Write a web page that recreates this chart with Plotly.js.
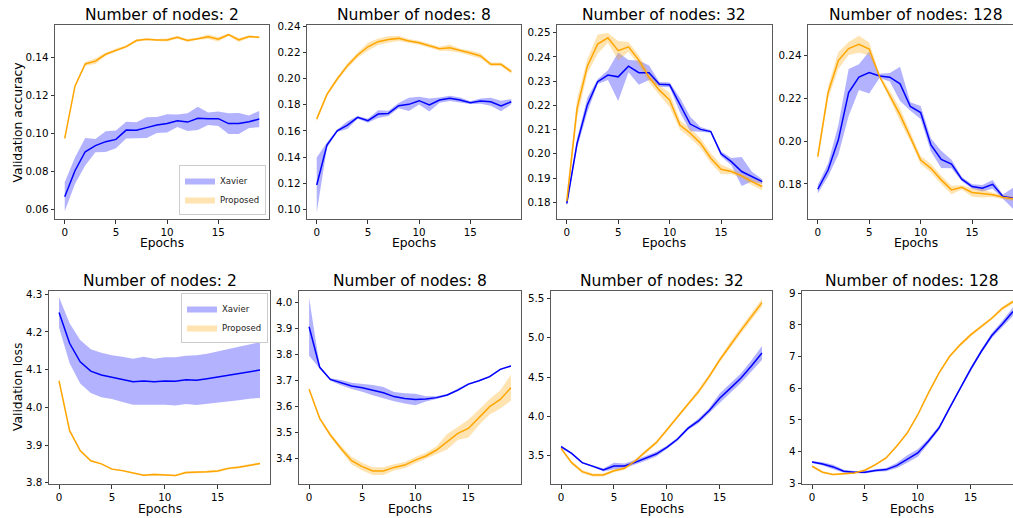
<!DOCTYPE html>
<html>
<head>
<meta charset="utf-8">
<script src="https://cdn.plot.ly/plotly-3.0.1.min.js"></script>
<style>
  html, body { margin: 0; padding: 0; overflow: hidden; background: #fff; }
  #chart { width: 1030px; height: 518px; }
</style>
</head>
<body>
<div id="chart"></div>
<script>
// ---------------- data ----------------
const epochs = [0,1,2,3,4,5,6,7,8,9,10,11,12,13,14,15,16,17,18,19];
const nodeCounts = [2, 8, 32, 128];
const seriesNames = ["Xavier", "Proposed"];

// validation accuracy
const acc2_xavier_mean = [0.0668,0.0805,0.0905,0.0937,0.0958,0.0970,0.1019,0.1018,0.1032,0.1046,0.1054,0.1068,0.1061,0.1081,0.1079,0.1079,0.1053,0.1054,0.1063,0.1077];
const acc2_xavier_std  = [0.0076,0.0070,0.0072,0.0035,0.0055,0.0047,0.0044,0.0042,0.0055,0.0042,0.0048,0.0033,0.0047,0.0061,0.0033,0.0038,0.0055,0.0055,0.0033,0.0043];
const acc2_proposed_mean = [0.0975,0.1250,0.1367,0.1382,0.1418,0.1440,0.1458,0.1490,0.1497,0.1493,0.1493,0.1507,0.1490,0.1500,0.1510,0.1497,0.1521,0.1493,0.1511,0.1507];
const acc2_proposed_std  = [0.0005,0.0005,0.0010,0.0015,0.0008,0.0008,0.0007,0.0007,0.0005,0.0005,0.0008,0.0008,0.0008,0.0006,0.0012,0.0012,0.0006,0.0010,0.0006,0.0005];

const acc8_xavier_mean = [0.1188,0.1493,0.1602,0.1645,0.1704,0.1678,0.1729,0.1734,0.1793,0.1803,0.1831,0.1798,0.1836,0.1849,0.1836,0.1816,0.1828,0.1823,0.1790,0.1823];
const acc8_xavier_std  = [0.0210,0.0020,0.0010,0.0030,0.0010,0.0015,0.0030,0.0020,0.0020,0.0050,0.0030,0.0050,0.0020,0.0020,0.0020,0.0010,0.0020,0.0030,0.0040,0.0020];
const acc8_proposed_mean = [0.1691,0.1879,0.1996,0.2098,0.2179,0.2242,0.2281,0.2298,0.2306,0.2286,0.2273,0.2250,0.2227,0.2235,0.2212,0.2194,0.2172,0.2108,0.2108,0.2052];
const acc8_proposed_std  = [0.0020,0.0015,0.0015,0.0020,0.0020,0.0030,0.0025,0.0025,0.0020,0.0015,0.0015,0.0015,0.0015,0.0025,0.0015,0.0020,0.0020,0.0015,0.0015,0.0015];

const acc32_xavier_mean = [0.1795,0.2043,0.2202,0.2298,0.2325,0.2318,0.2362,0.2335,0.2335,0.2287,0.2285,0.2202,0.2123,0.2101,0.2092,0.2000,0.1968,0.1927,0.1906,0.1885];
const acc32_xavier_std  = [0.0010,0.0020,0.0030,0.0010,0.0020,0.0100,0.0025,0.0050,0.0030,0.0010,0.0010,0.0030,0.0030,0.0010,0.0005,0.0010,0.0015,0.0060,0.0020,0.0010];
const acc32_proposed_mean = [0.1805,0.2188,0.2362,0.2453,0.2479,0.2426,0.2442,0.2387,0.2316,0.2263,0.2222,0.2119,0.2085,0.2044,0.1982,0.1936,0.1927,0.1909,0.1885,0.1865];
const acc32_proposed_std  = [0.0020,0.0040,0.0030,0.0040,0.0020,0.0040,0.0020,0.0020,0.0020,0.0020,0.0030,0.0020,0.0020,0.0020,0.0020,0.0020,0.0010,0.0010,0.0015,0.0015];

const acc128_xavier_mean = [0.1775,0.1865,0.2006,0.2227,0.2299,0.2321,0.2305,0.2299,0.2268,0.2162,0.2134,0.1982,0.1915,0.1893,0.1822,0.1788,0.1780,0.1798,0.1741,0.1733];
const acc128_xavier_std  = [0.0020,0.0030,0.0070,0.0110,0.0060,0.0098,0.0010,0.0020,0.0080,0.0020,0.0030,0.0030,0.0040,0.0020,0.0010,0.0010,0.0015,0.0020,0.0010,0.0050];
const acc128_proposed_mean = [0.1928,0.2227,0.2377,0.2433,0.2453,0.2431,0.2302,0.2216,0.2123,0.2018,0.1912,0.1873,0.1819,0.1772,0.1784,0.1760,0.1756,0.1749,0.1738,0.1731];
const acc128_proposed_std  = [0.0020,0.0030,0.0040,0.0030,0.0040,0.0030,0.0010,0.0020,0.0030,0.0020,0.0020,0.0020,0.0020,0.0020,0.0010,0.0020,0.0020,0.0010,0.0010,0.0010];

// validation loss
const loss2_xavier_mean = [4.252,4.170,4.121,4.096,4.086,4.080,4.074,4.068,4.070,4.068,4.070,4.069,4.073,4.072,4.076,4.081,4.086,4.090,4.095,4.099];
const loss2_xavier_std  = [0.040,0.053,0.058,0.058,0.059,0.058,0.060,0.061,0.064,0.061,0.063,0.064,0.064,0.066,0.066,0.068,0.070,0.071,0.072,0.074];
const loss2_proposed_mean = [4.070,3.938,3.885,3.858,3.850,3.836,3.832,3.825,3.820,3.822,3.821,3.819,3.827,3.827,3.829,3.831,3.838,3.841,3.845,3.851];
const loss2_proposed_std  = [0.005,0.003,0.003,0.002,0.002,0.002,0.002,0.002,0.002,0.003,0.002,0.002,0.003,0.003,0.003,0.003,0.003,0.003,0.003,0.003];

const loss8_xavier_mean = [3.907,3.751,3.704,3.692,3.679,3.672,3.663,3.653,3.638,3.631,3.627,3.629,3.634,3.644,3.663,3.686,3.699,3.715,3.743,3.756];
const loss8_xavier_std  = [0.112,0.005,0.005,0.010,0.012,0.015,0.020,0.022,0.018,0.020,0.022,0.010,0.005,0.004,0.004,0.003,0.003,0.003,0.003,0.003];
const loss8_proposed_mean = [3.666,3.554,3.490,3.438,3.391,3.368,3.351,3.351,3.365,3.374,3.393,3.409,3.432,3.464,3.496,3.515,3.558,3.599,3.627,3.672];
const loss8_proposed_std  = [0.005,0.005,0.008,0.010,0.015,0.015,0.015,0.015,0.012,0.012,0.012,0.012,0.015,0.030,0.025,0.035,0.030,0.030,0.035,0.050];

const loss32_xavier_mean = [3.614,3.530,3.411,3.369,3.318,3.369,3.369,3.415,3.466,3.521,3.606,3.708,3.847,3.941,4.072,4.229,4.356,4.483,4.640,4.805];
const loss32_xavier_std  = [0.02,0.01,0.01,0.01,0.02,0.04,0.03,0.03,0.03,0.03,0.02,0.02,0.02,0.03,0.03,0.06,0.06,0.06,0.07,0.09];
const loss32_proposed_mean = [3.593,3.411,3.297,3.254,3.254,3.309,3.339,3.432,3.551,3.665,3.826,3.996,4.153,4.314,4.504,4.716,4.907,5.089,5.267,5.445];
const loss32_proposed_std  = [0.02,0.02,0.02,0.02,0.02,0.02,0.02,0.02,0.02,0.02,0.02,0.02,0.02,0.03,0.03,0.03,0.04,0.04,0.04,0.05];

const loss128_xavier_mean = [3.674,3.611,3.517,3.380,3.349,3.349,3.401,3.433,3.559,3.769,3.958,4.326,4.746,5.376,6.006,6.605,7.162,7.666,8.034,8.422];
const loss128_xavier_std  = [0.03,0.05,0.07,0.05,0.04,0.04,0.04,0.05,0.08,0.12,0.12,0.08,0.06,0.05,0.05,0.06,0.06,0.08,0.10,0.14];
const loss128_proposed_mean = [3.538,3.349,3.275,3.296,3.328,3.412,3.590,3.800,4.168,4.588,5.166,5.849,6.479,7.004,7.372,7.687,7.950,8.212,8.527,8.737];
const loss128_proposed_std  = [0.03,0.03,0.03,0.03,0.03,0.03,0.03,0.03,0.03,0.03,0.03,0.03,0.04,0.04,0.05,0.05,0.05,0.05,0.06,0.06];

// ---------------- panels ----------------
const W = 1030, H = 518;
const FONT = "DejaVu Sans, Liberation Sans, sans-serif";
const panels = [
  {n:2,   xm: acc2_xavier_mean,   xs: acc2_xavier_std,   pm: acc2_proposed_mean,   ps: acc2_proposed_std,   px:[55,269],  py:[25,219],  yr:[0.0551,0.1572], dt:0.02, fmt:".2f", legend:"legend", ex:24},
  {n:8,   xm: acc8_xavier_mean,   xs: acc8_xavier_std,   pm: acc8_proposed_mean,   ps: acc8_proposed_std,   px:[307,521], py:[25,219],  yr:[0.0929,0.2408], dt:0.02, fmt:".2f", ex:24},
  {n:32,  xm: acc32_xavier_mean,  xs: acc32_xavier_std,  pm: acc32_proposed_mean,  ps: acc32_proposed_std,  px:[557,772], py:[25,219],  yr:[0.1731,0.2532], dt:0.01, fmt:".2f", ex:24},
  {n:128, xm: acc128_xavier_mean, xs: acc128_xavier_std, pm: acc128_proposed_mean, ps: acc128_proposed_std, px:[808,1023],py:[25,219],  yr:[0.1636,0.2543], dt:0.02, fmt:".2f", ex:24},
  {n:2,   xm: loss2_xavier_mean,  xs: loss2_xavier_std,  pm: loss2_proposed_mean,  ps: loss2_proposed_std,  px:[49,270],  py:[291,484], yr:[3.7965,4.3088], dt:0.1, fmt:".1f", legend:"legend2", ex:25},
  {n:8,   xm: loss8_xavier_mean,  xs: loss8_xavier_std,  pm: loss8_proposed_mean,  ps: loss8_proposed_std,  px:[299,521], py:[291,484], yr:[3.301,4.045],   dt:0.1, fmt:".1f", ex:25},
  {n:32,  xm: loss32_xavier_mean, xs: loss32_xavier_std, pm: loss32_proposed_mean, ps: loss32_proposed_std, px:[551,772], py:[291,484], yr:[3.140,5.593],   dt:0.5, fmt:".1f", ex:25},
  {n:128, xm: loss128_xavier_mean,xs: loss128_xavier_std,pm: loss128_proposed_mean,ps: loss128_proposed_std,px:[802,1023],py:[291,484], yr:[2.978,9.073],   dt:1,   fmt:"d", ex:25}
];

const colors = {
  Xavier:   {line: "#0000ff", fill: "rgba(0,0,255,0.3)"},
  Proposed: {line: "#ffa500", fill: "rgba(255,165,0,0.3)"}
};

const traces = [];
const layout = {
  width: W, height: H,
  margin: {l:0, r:0, t:0, b:0},
  paper_bgcolor: "#fff", plot_bgcolor: "#fff",
  font: {family: FONT, color: "#000", size: 10},
  showlegend: true,
  annotations: []
};

function band(mean, std, name, xa, ya, legendId) {
  const up = mean.map((v, i) => v + std[i]);
  const lo = mean.map((v, i) => v - std[i]);
  const t = {
    type: "scatter", mode: "lines",
    x: epochs.concat(epochs.slice().reverse()),
    y: up.concat(lo.slice().reverse()),
    fill: "toself", fillcolor: colors[name].fill,
    line: {width: 0, color: colors[name].fill},
    hoverinfo: "skip",
    name: name, xaxis: xa, yaxis: ya,
    showlegend: !!legendId
  };
  if (legendId) t.legend = legendId;
  return t;
}
function line(mean, name, xa, ya) {
  return {
    type: "scatter", mode: "lines", x: epochs, y: mean,
    line: {color: colors[name].line, width: 1.5},
    name: name, xaxis: xa, yaxis: ya, showlegend: false
  };
}

panels.forEach((p, k) => {
  const idx = k + 1;
  const xa = idx === 1 ? "x" : "x" + idx;
  const ya = idx === 1 ? "y" : "y" + idx;
  const xkey = idx === 1 ? "xaxis" : "xaxis" + idx;
  const ykey = idx === 1 ? "yaxis" : "yaxis" + idx;
  const xd = [p.px[0] / W, p.px[1] / W];
  const yd = [1 - p.py[1] / H, 1 - p.py[0] / H];

  traces.push(band(p.xm, p.xs, "Xavier", xa, ya, p.legend));
  traces.push(band(p.pm, p.ps, "Proposed", xa, ya, p.legend));
  traces.push(line(p.xm, "Xavier", xa, ya));
  traces.push(line(p.pm, "Proposed", xa, ya));

  const common = {
    showline: true, mirror: true, linecolor: "#5a5a5a", linewidth: 1,
    showgrid: false, zeroline: false,
    ticks: "outside", ticklen: 3.5, tickwidth: 0.8, tickcolor: "#000",
    tickfont: {family: FONT, size: 10.3, color: "#000"},
    fixedrange: true
  };
  layout[xkey] = Object.assign({}, common, {
    domain: xd, anchor: ya, range: [-0.95, 19.95],
    tickmode: "array", tickvals: [0, 5, 10, 15], ticktext: ["0", "5", "10", "15"]
  });
  layout[ykey] = Object.assign({}, common, {
    domain: yd, anchor: xa, range: p.yr,
    tick0: 0, dtick: p.dt, tickformat: p.fmt
  });

  const cx = (xd[0] + xd[1]) / 2;
  const top = p.py[0];
  // subplot title
  layout.annotations.push({
    text: "Number of nodes: " + p.n, xref: "paper", yref: "paper",
    x: cx, y: 1 - (top - 10) / H, xanchor: "center", yanchor: "middle",
    showarrow: false, font: {family: FONT, size: 15.5, color: "#000"}
  });
  // x axis title
  layout.annotations.push({
    text: "Epochs", xref: "paper", yref: "paper",
    x: cx, y: 1 - (p.py[1] + p.ex) / H, xanchor: "center", yanchor: "middle",
    showarrow: false, font: {family: FONT, size: 12.3, color: "#000"}
  });
});

// y axis titles
layout.annotations.push({
  text: "Validation accuracy", xref: "paper", yref: "paper",
  x: 17.5 / W, y: 1 - 123 / H, xanchor: "center", yanchor: "middle", textangle: -90,
  showarrow: false, font: {family: FONT, size: 12.3, color: "#000"}
});
layout.annotations.push({
  text: "Validation loss", xref: "paper", yref: "paper",
  x: 17.5 / W, y: 1 - 387.5 / H, xanchor: "center", yanchor: "middle", textangle: -90,
  showarrow: false, font: {family: FONT, size: 12.3, color: "#000"}
});

const legendStyle = {
  bgcolor: "rgba(255,255,255,0.85)", bordercolor: "#cccccc", borderwidth: 1,
  font: {family: FONT, size: 8.5, color: "#222"},
  itemwidth: 30, tracegroupgap: 0
};
layout.legend = Object.assign({}, legendStyle, {
  x: 266 / W, y: 1 - 215 / H, xanchor: "right", yanchor: "bottom"
});
layout.legend2 = Object.assign({}, legendStyle, {
  x: 268 / W, y: 1 - 293 / H, xanchor: "right", yanchor: "top"
});

Plotly.newPlot("chart", traces, layout, {displayModeBar: false, staticPlot: true});
</script>
</body>
</html>
